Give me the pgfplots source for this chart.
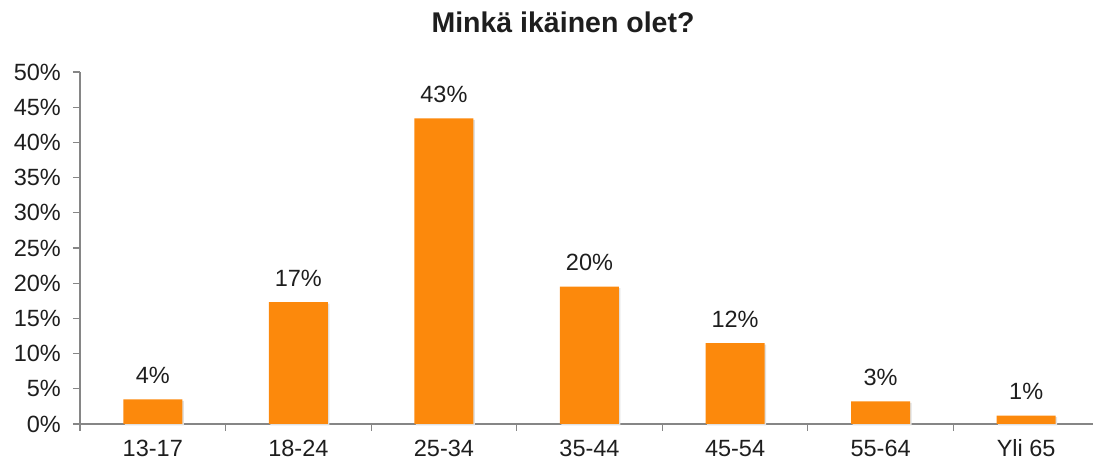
\documentclass[border=0pt]{standalone}
\usepackage{pgfplots}
\pgfplotsset{compat=1.18}
\usepackage{fontspec}
\setmainfont{Liberation Sans}
\definecolor{barorange}{RGB}{252,137,12}
\definecolor{axgray}{RGB}{134,134,134}
\definecolor{txt}{RGB}{30,30,30}
\begin{document}
\begin{tikzpicture}[x=1pt,y=1pt]
\path[use as bounding box] (-80,-42) rectangle (1013,424);
\begin{axis}[
  scale only axis, width=1019pt, height=352pt,
  xmin=-0.5, xmax=6.5, ymin=0, ymax=50,
  axis x line*=bottom, axis y line*=left,
  axis line style={axgray, line width=1.2pt, -},
  xtick={0,...,6},
  xticklabels={13-17,18-24,25-34,35-44,45-54,55-64,Yli 65},
  major x tick style={draw=none},
  minor xtick={-0.5,0.5,1.5,2.5,3.5,4.5,5.5},
  minor x tick style={axgray, line width=1.2pt},
  minor tick length=7pt,
  xtick pos=bottom,
  ytick={0,5,...,50},
  ytick pos=left,
  major y tick style={axgray, line width=1.2pt},
  major tick length=7pt,
  tick align=outside,
  yticklabel={\pgfmathprintnumber{\tick}\%},
  /pgf/number format/assume math mode=true,
  tick label style={font=\fontsize{23.5}{26}\selectfont, text=txt},
  xticklabel style={anchor=base, yshift=-26pt},
  yticklabel style={anchor=east, inner sep=0pt, xshift=-12pt},
  ybar, bar width=59pt,
  nodes near coords,
  point meta=explicit symbolic,
  every node near coord/.append style={font=\fontsize{23.5}{26}\selectfont, text=txt, anchor=base, yshift=16pt},
  title={\textbf{Minkä ikäinen olet?}},
  title style={font=\fontsize{28.5}{32}\selectfont, text=txt, at={(0.474,1)}, anchor=base, yshift=33pt},
  clip=false,
]
\addplot[fill=barorange, draw=none,
  preaction={fill=black!12, transform canvas={xshift=1.5pt,yshift=-1.5pt}}] coordinates {
  (0,3.5) [4\%]
  (1,17.3) [17\%]
  (2,43.4) [43\%]
  (3,19.5) [20\%]
  (4,11.5) [12\%]
  (5,3.2) [3\%]
  (6,1.2) [1\%]
};
\end{axis}
\end{tikzpicture}
\end{document}
